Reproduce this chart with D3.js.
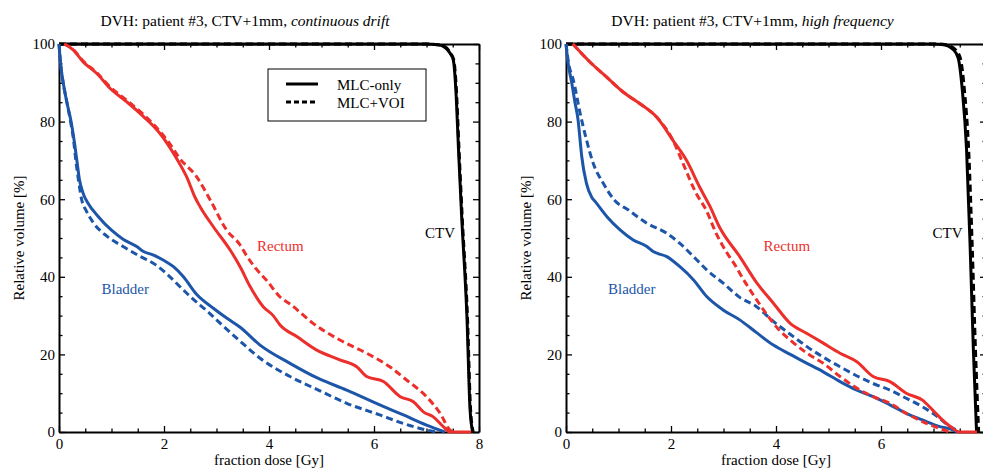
<!DOCTYPE html>
<html><head><meta charset="utf-8">
<script src="https://cdn.jsdelivr.net/npm/d3@7"></script>
<style>
html,body{margin:0;padding:0;background:#fff;}
svg{display:block;}
svg text{font-family:"Liberation Serif","Times New Roman",Times,serif;}
</style></head><body>
<svg id="chart" width="983" height="470"></svg>
<script>
// ---------- data ----------
const doseTicks = [0, 2, 4, 6, 8];
const doseMinorTicks = [0.5,1,1.5,2.5,3,3.5,4.5,5,5.5,6.5,7,7.5];
const volumeTicks = [0, 20, 40, 60, 80, 100];
const volumeMinorTicks = [5,10,15,25,30,35,45,50,55,65,70,75,85,90,95];
const panelTitles = ["continuous drift", "high frequency"];
const titlePrefix = "DVH: patient #3, CTV+1mm, ";
const legendLabels = ["MLC-only", "MLC+VOI"];
const organLabels = ["Rectum", "Bladder", "CTV"];

// Left panel (continuous drift)
const leftBladderMLC = [[0,100],[0.03,95],[0.08,90],[0.15,85],[0.23,80],[0.29,75],[0.34,70],[0.39,65],[0.46,61.5],[0.55,59],[0.75,55.5],[1.0,52],[1.22,49.7],[1.48,47.8],[1.6,46.6],[1.8,45.6],[2.0,44.2],[2.18,42.6],[2.37,40],[2.62,35.5],[2.94,31.9],[3.2,29.3],[3.45,27],[3.83,22.4],[4.4,17.7],[4.94,13.8],[5.48,10.8],[6.11,7.0],[6.56,4.4],[7.0,1.8],[7.35,0]];
const leftBladderVOI = [[0,100],[0.03,95],[0.08,90],[0.15,85],[0.22,80],[0.28,75],[0.32,70],[0.37,65],[0.43,60],[0.52,57],[0.65,54],[0.91,50.5],[1.22,47.8],[1.54,45.3],[1.83,43.2],[2.05,40.8],[2.3,37.5],[2.55,34.3],[2.81,31.3],[3.12,27.4],[3.45,23.4],[3.83,19],[4.4,14.3],[4.94,10.8],[5.48,7.4],[6.11,4.4],[6.56,2.2],[7.0,0.5],[7.2,0]];
const leftRectumMLC = [[0.1,100],[0.27,98.5],[0.46,95.4],[0.72,92.4],[0.97,88.6],[1.29,85.1],[1.61,81.3],[1.92,77],[2.24,70.5],[2.43,65.8],[2.59,60.5],[2.69,58],[2.94,52.9],[3.26,46.9],[3.45,42.6],[3.64,37.5],[3.89,32.3],[4.08,30],[4.21,27.6],[4.53,24.6],[4.91,21.1],[5.35,18.6],[5.67,16.8],[5.86,14.3],[6.18,13],[6.5,9.1],[6.75,7.8],[6.94,5.2],[7.13,3.9],[7.32,1.4],[7.45,0],[7.85,0]];
const leftRectumVOI = [[0.1,100],[0.27,98.6],[0.46,95.6],[0.72,92.6],[0.97,89],[1.29,85.5],[1.61,81.8],[1.92,77.5],[2.1,74.5],[2.3,70.5],[2.62,65.8],[2.88,59.8],[3.19,52.1],[3.45,48.2],[3.57,45.5],[3.77,41.8],[3.96,39],[4.21,34.8],[4.4,33],[4.84,28],[5.35,23.7],[5.86,20.3],[6.3,16.8],[6.62,13.4],[7.0,9.1],[7.26,4.8],[7.45,0.5],[7.52,0]];
const leftCTVMLC = [[0,100],[7.0,100],[7.2,99.8],[7.32,99.4],[7.45,97.6],[7.51,95.9],[7.56,88],[7.61,72.7],[7.67,55.5],[7.77,29.7],[7.83,5.7],[7.88,0]];
const leftCTVVOI = [[0,100],[7.02,100],[7.22,99.8],[7.34,99.4],[7.46,97.6],[7.52,95.9],[7.57,88],[7.62,72.7],[7.68,55.5],[7.78,29.7],[7.84,5.7],[7.89,0]];

// Right panel (high frequency)
const rightBladderMLC = [[0,100],[0.04,95],[0.1,90.7],[0.17,85],[0.23,80.4],[0.27,75],[0.3,71],[0.39,64.1],[0.49,60.5],[0.55,59.5],[0.78,55.5],[1.03,52.1],[1.28,49.5],[1.54,47.8],[1.66,46.5],[1.92,45.2],[2.17,42.6],[2.43,39.2],[2.68,34.9],[3.0,31.4],[3.31,28.9],[3.63,25.6],[3.95,22.4],[4.27,20],[4.59,17.7],[4.9,15.5],[5.22,13],[5.54,10.8],[5.85,9.1],[6.17,7.0],[6.48,4.8],[6.79,3.1],[7.12,1.4],[7.38,0.5],[7.45,0]];
const rightBladderVOI = [[0,100],[0.05,95],[0.14,90.7],[0.27,82.1],[0.39,75.3],[0.52,69.2],[0.71,64.1],[0.92,59.8],[1.19,57.2],[1.54,53.8],[1.92,51.2],[2.17,48.6],[2.43,45.2],[2.68,41.8],[3.0,38.3],[3.31,34.7],[3.63,32.3],[3.95,28.5],[4.27,25.2],[4.59,22],[5.22,16.8],[5.85,12.5],[6.17,10.8],[6.48,8.7],[6.79,6.5],[7.12,3.5],[7.31,1.4],[7.44,0.5],[7.5,0]];
const rightRectumMLC = [[0.13,100],[0.46,95.3],[0.78,91.4],[1.1,87.5],[1.41,84.6],[1.73,81.1],[2.04,75.1],[2.3,69.9],[2.55,63],[2.74,58.2],[2.92,52.9],[3.31,45.2],[3.63,38.5],[3.95,33.2],[4.27,28],[4.59,25.4],[4.9,22.9],[5.22,20.3],[5.54,18.1],[5.85,14.3],[6.17,13],[6.48,10],[6.79,8.2],[6.98,5.7],[7.17,3.1],[7.36,1],[7.49,0],[7.83,0]];
const rightRectumVOI = [[0.13,100],[0.46,95.3],[0.78,91.4],[1.1,87.5],[1.41,84.6],[1.73,81.1],[2.04,75.1],[2.22,69.5],[2.48,61.5],[2.67,57.2],[2.86,51.2],[3.05,46.5],[3.24,42.6],[3.31,40.9],[3.55,35.7],[3.81,30.6],[4.06,26.3],[4.27,23.7],[4.59,20.3],[4.9,17.7],[5.22,14.3],[5.54,11.3],[5.85,9.1],[6.17,7.4],[6.48,4.8],[6.79,2.7],[7.12,0.9],[7.3,0]];
const rightCTVMLC = [[0,100],[7.0,100],[7.19,99.8],[7.38,98.5],[7.47,96.4],[7.55,88],[7.63,72.7],[7.70,46.9],[7.76,21],[7.82,0]];
const rightCTVVOI = [[0,100],[7.05,100],[7.24,99.8],[7.42,98.5],[7.51,96.4],[7.59,88],[7.67,72.7],[7.74,46.9],[7.8,21],[7.86,0]];

// ---------- drawing ----------
const FONT = '"Liberation Serif", "Times New Roman", Times, serif';
const RED = "#ec2f2b", BLUE = "#1d56a8", BLACK = "#000";
const svg = d3.select("#chart");
svg.append("rect").attr("width",983).attr("height",470).attr("fill","#fff");

const panels = [
  {left: 59, title: panelTitles[0], titleX: 245, legend: true, lastLabel: true,
   series: [
     {data: leftCTVMLC, color: BLACK}, {data: leftCTVVOI, color: BLACK, dash: true},
     {data: leftBladderMLC, color: BLUE}, {data: leftBladderVOI, color: BLUE, dash: true},
     {data: leftRectumMLC, color: RED}, {data: leftRectumVOI, color: RED, dash: true}],
   labels: [{t: organLabels[0], x: 257, y: 251, c: RED}, {t: organLabels[1], x: 101.5, y: 294, c: BLUE}, {t: organLabels[2], x: 425, y: 238, c: BLACK}]},
  {left: 566, title: panelTitles[1], titleX: 752.5, legend: false, lastLabel: false,
   series: [
     {data: rightCTVMLC, color: BLACK}, {data: rightCTVVOI, color: BLACK, dash: true},
     {data: rightBladderMLC, color: BLUE}, {data: rightBladderVOI, color: BLUE, dash: true},
     {data: rightRectumMLC, color: RED}, {data: rightRectumVOI, color: RED, dash: true}],
   labels: [{t: organLabels[0], x: 763.5, y: 251, c: RED}, {t: organLabels[1], x: 608, y: 293.5, c: BLUE}, {t: organLabels[2], x: 932.5, y: 237.5, c: BLACK}]}
];

const TOP = 44, BOTTOM = 432, PW = 420;

panels.forEach(p => {
  const g = svg.append("g");
  const x = d3.scaleLinear().domain([0, 8]).range([p.left, p.left + PW]);
  const y = d3.scaleLinear().domain([0, 100]).range([BOTTOM, TOP]);

  const styleAxis = (sel) => {
    sel.attr("font-family", FONT);
    sel.select(".domain").attr("stroke", "#000").attr("stroke-width", 2);
    sel.selectAll(".tick line").attr("stroke", "#000").attr("stroke-width", 1.3);
    sel.selectAll(".tick text").attr("font-size", 15).attr("fill", "#000").attr("font-family", FONT);
  };
  const xFmt = d => (d === 8 && !p.lastLabel) ? "" : d3.format("d")(d);

  // bottom
  const gb = g.append("g").attr("transform", `translate(0,${BOTTOM})`)
    .call(d3.axisBottom(x).tickValues(doseTicks).tickSizeInner(-6).tickSizeOuter(0).tickPadding(6).tickFormat(xFmt));
  styleAxis(gb);
  const gbm = g.append("g").attr("transform", `translate(0,${BOTTOM})`)
    .call(d3.axisBottom(x).tickValues(doseMinorTicks).tickSizeInner(-3.5).tickSizeOuter(0).tickFormat(""));
  gbm.select(".domain").remove(); styleAxis(gbm);
  // top
  const gt = g.append("g").attr("transform", `translate(0,${TOP})`)
    .call(d3.axisTop(x).tickValues(doseTicks).tickSizeInner(-6).tickSizeOuter(0).tickFormat(""));
  styleAxis(gt);
  const gtm = g.append("g").attr("transform", `translate(0,${TOP})`)
    .call(d3.axisTop(x).tickValues(doseMinorTicks).tickSizeInner(-3.5).tickSizeOuter(0).tickFormat(""));
  gtm.select(".domain").remove(); styleAxis(gtm);
  // left
  const gl = g.append("g").attr("transform", `translate(${p.left},0)`)
    .call(d3.axisLeft(y).tickValues(volumeTicks).tickSizeInner(-6).tickSizeOuter(0).tickPadding(4).tickFormat(d3.format("d")));
  styleAxis(gl);
  const glm = g.append("g").attr("transform", `translate(${p.left},0)`)
    .call(d3.axisLeft(y).tickValues(volumeMinorTicks).tickSizeInner(-3.5).tickSizeOuter(0).tickFormat(""));
  glm.select(".domain").remove(); styleAxis(glm);
  // right
  const gr = g.append("g").attr("transform", `translate(${p.left + PW},0)`)
    .call(d3.axisRight(y).tickValues(volumeTicks).tickSizeInner(-6).tickSizeOuter(0).tickFormat(""));
  styleAxis(gr);
  const grm = g.append("g").attr("transform", `translate(${p.left + PW},0)`)
    .call(d3.axisRight(y).tickValues(volumeMinorTicks).tickSizeInner(-3.5).tickSizeOuter(0).tickFormat(""));
  grm.select(".domain").remove(); styleAxis(grm);

  // curves
  const line = d3.line().x(d => x(d[0])).y(d => y(d[1])).curve(d3.curveMonotoneX);
  p.series.forEach(s => {
    g.append("path").attr("d", line(s.data)).attr("fill", "none")
      .attr("stroke", s.color).attr("stroke-width", 3)
      .attr("stroke-linejoin", "round")
      .attr("stroke-dasharray", s.dash ? "7,4" : null);
  });

  // titles
  const t = g.append("text").attr("x", p.titleX).attr("y", 26).attr("text-anchor", "middle")
    .attr("font-family", FONT).attr("font-size", 15.5).attr("fill", "#000");
  t.append("tspan").text(titlePrefix);
  t.append("tspan").attr("font-style", "italic").text(p.title);

  g.append("text").attr("x", p.left + PW / 2).attr("y", 465).attr("text-anchor", "middle")
    .attr("font-family", FONT).attr("font-size", 15).attr("fill", "#000").text("fraction dose [Gy]");
  g.append("text").attr("transform", `translate(${p.left - 35},${(TOP + BOTTOM) / 2}) rotate(-90)`)
    .attr("text-anchor", "middle").attr("font-family", FONT).attr("font-size", 15).attr("fill", "#000").text("Relative volume [%]");

  p.labels.forEach(l => {
    g.append("text").attr("x", l.x).attr("y", l.y).attr("font-family", FONT).attr("font-size", 15).attr("fill", l.c).text(l.t);
  });

  if (p.legend) {
    const lg = g.append("g");
    lg.append("rect").attr("x", 268).attr("y", 69).attr("width", 158).attr("height", 52)
      .attr("fill", "#fff").attr("stroke", "#000").attr("stroke-width", 1);
    [0, 1].forEach(i => {
      const yy = 84 + i * 18;
      lg.append("line").attr("x1", 286).attr("x2", 318).attr("y1", yy).attr("y2", yy)
        .attr("stroke", "#000").attr("stroke-width", 3).attr("stroke-dasharray", i ? "5,3" : null);
      lg.append("text").attr("x", 337).attr("y", yy + 6).attr("font-family", FONT).attr("font-size", 15).attr("fill", "#000").text(legendLabels[i]);
    });
  }
});
</script>
</body></html>
